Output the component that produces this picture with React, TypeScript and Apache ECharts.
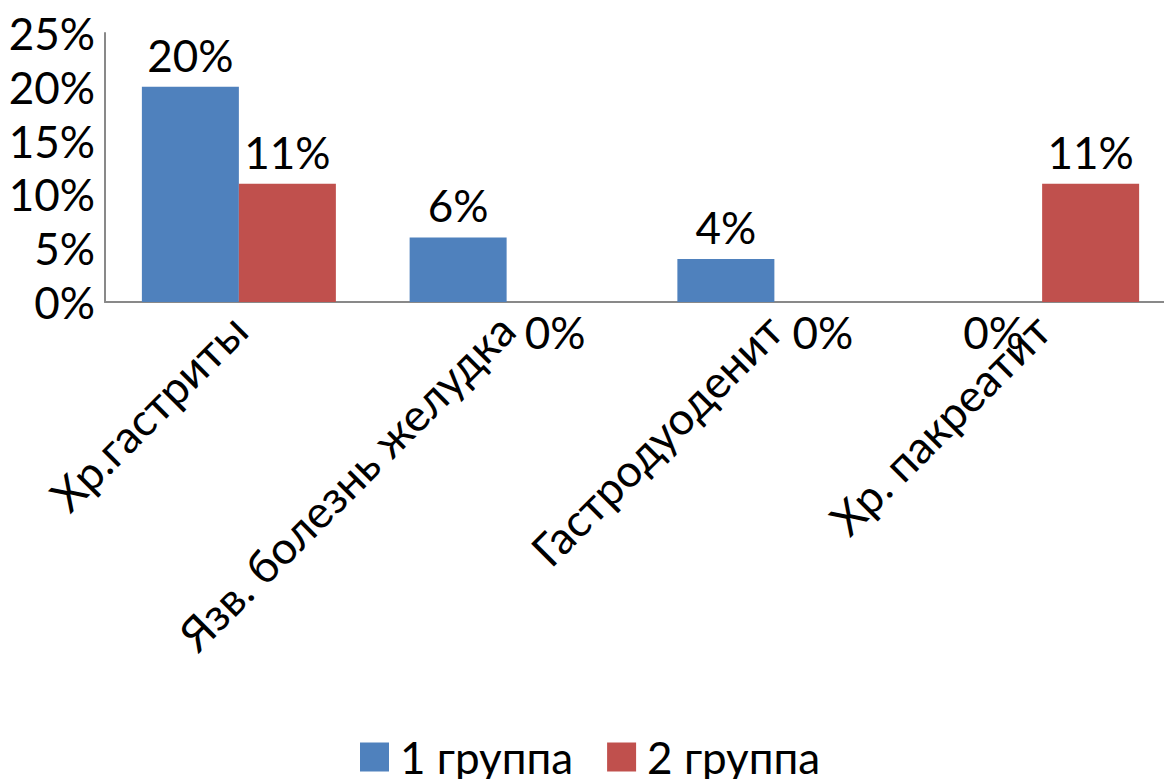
import React, { useEffect, useRef } from "react";
import * as echarts from "echarts";

const categories = [
  "Хр.гастриты",
  "Язв. болезнь желудка",
  "Гастродуоденит",
  "Хр. пакреатит",
];
const group1 = [20, 6, 4, 0];
const group2 = [11, 0, 0, 11];
const seriesNames = ["1 группа", "2 группа"];
const colors = ["#4F81BD", "#C0504D"];

const FONT = "Lato, Carlito, 'Liberation Sans', sans-serif";

function toData(values: number[]) {
  // zero-height bars carry their label just under the axis line
  return values.map((v) =>
    v === 0
      ? { value: v, label: { position: "bottom", distance: 8 } }
      : { value: v }
  );
}

export default function App() {
  const ref = useRef<HTMLDivElement>(null);

  useEffect(() => {
    if (!ref.current) return;
    const chart = echarts.init(ref.current, null, { renderer: "svg" });
    const labelStyle = {
      show: true,
      position: "top",
      distance: 10,
      formatter: "{c}%",
      fontFamily: FONT,
      fontSize: 44,
      color: "#000",
    };
    chart.setOption({
      animation: false,
      backgroundColor: "#fff",
      // the plot area runs a little past the right edge of the page
      grid: { left: 105, right: 0, top: 33, bottom: 477, containLabel: false },
      legend: {
        data: seriesNames,
        left: 355,
        top: 730,
        icon: "rect",
        itemWidth: 29,
        itemHeight: 29,
        itemGap: 34,
        textStyle: { fontFamily: FONT, fontSize: 44, color: "#000", padding: [0, 0, 0, 6] },
      },
      xAxis: {
        type: "category",
        data: categories,
        axisLine: { show: true, lineStyle: { color: "#898989", width: 2 } },
        axisTick: { show: false },
        axisLabel: {
          interval: 0,
          rotate: 45,
          margin: 20,
          fontFamily: FONT,
          fontSize: 45,
          color: "#000",
        },
      },
      yAxis: {
        type: "value",
        min: 0,
        max: 25,
        interval: 5,
        splitLine: { show: false },
        axisLine: { show: true, lineStyle: { color: "#898989", width: 2 } },
        axisTick: { show: false },
        axisLabel: {
          formatter: "{value}%",
          margin: 10,
          fontFamily: FONT,
          fontSize: 44,
          color: "#000",
        },
      },
      series: [
        {
          name: seriesNames[0],
          type: "bar",
          data: toData(group1),
          barWidth: 97,
          barGap: "0%",
          itemStyle: { color: colors[0] },
          label: labelStyle,
        },
        {
          name: seriesNames[1],
          type: "bar",
          data: toData(group2),
          barWidth: 97,
          barGap: "0%",
          itemStyle: { color: colors[1] },
          label: labelStyle,
        },
      ],
    });
    return () => chart.dispose();
  }, []);

  return (
    <div
      ref={ref}
      style={{ position: "fixed", left: 0, top: 0, width: 1176, height: 779 }}
    />
  );
}
